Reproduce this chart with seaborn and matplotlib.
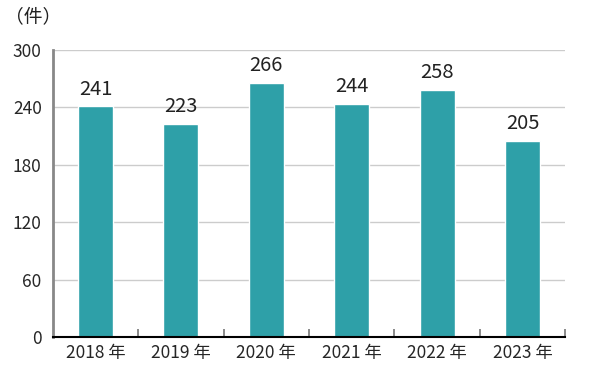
import matplotlib
matplotlib.use("Agg")
import matplotlib.pyplot as plt
import seaborn as sns
import pandas as pd
import numpy as np

years = ["2018 年", "2019 年", "2020 年", "2021 年", "2022 年", "2023 年"]
counts = [241, 223, 266, 244, 258, 205]
y_ticks = [0, 60, 120, 180, 240, 300]

sns.set_style("white")
plt.rcParams['font.family'] = ['DejaVu Sans Condensed', 'Noto Sans CJK JP', 'DejaVu Sans']

df = pd.DataFrame({"year": years, "count": counts})

fig = plt.figure(figsize=(6, 3.76), dpi=100)
ax = fig.add_axes([0.088, 0.104, 0.854, 0.763])

sns.barplot(data=df, x="year", y="count", color="#2ea0a8", width=0.41,
            saturation=1, ax=ax, zorder=3)

ax.set_ylim(0, 300)
ax.set_xlim(-0.5, len(years) - 0.5)
ax.set_yticks(y_ticks)
ax.set_yticklabels([str(v) for v in y_ticks], fontsize=12.5)
ax.yaxis.grid(True, color="#cccccc", linewidth=1, zorder=0)
ax.tick_params(axis="y", length=0, pad=8)

# category labels centred, ticks at the boundaries
ax.set_xticks(np.arange(len(years)))
ax.set_xticklabels(years, fontsize=12.5)
ax.tick_params(axis="x", length=0, pad=5)
ax.set_xticks(np.arange(len(years)) + 0.5, minor=True)
ax.tick_params(axis="x", which="minor", bottom=True, direction="in", length=6,
               color="#777777", width=1.2)
ax.set_xlabel("")
ax.set_ylabel("")

for s in ["top", "right"]:
    ax.spines[s].set_visible(False)
ax.spines["left"].set_color("#888888")
ax.spines["left"].set_linewidth(2)
ax.spines["bottom"].set_color("#000000")
ax.spines["bottom"].set_linewidth(1.5)
ax.spines["left"].set_zorder(4)
ax.spines["bottom"].set_zorder(4)

for i, v in enumerate(counts):
    ax.text(i, v + 7, str(v), ha="center", va="bottom", fontsize=14.5,
            family=["Noto Sans CJK JP", "DejaVu Sans"], color="#222222")

fig.text(0.008, 0.955, "（件）", fontsize=13.5, ha="left", va="center",
         family=["Noto Sans CJK JP", "DejaVu Sans"], color="#222222")

fig.savefig("out.png", dpi=100)
